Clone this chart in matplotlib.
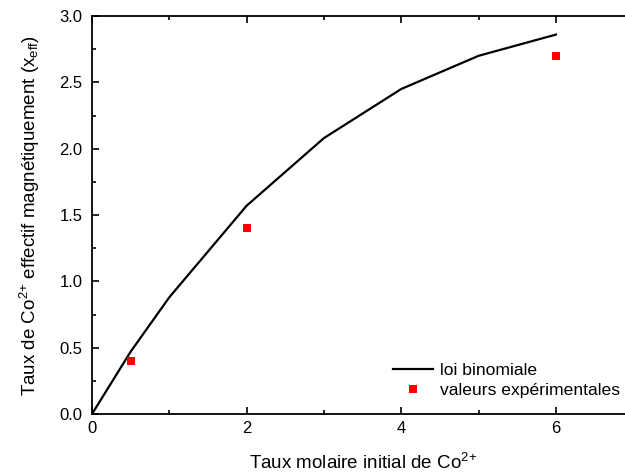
import numpy as np
import matplotlib.pyplot as plt
from matplotlib.ticker import MultipleLocator

plt.rcParams['font.family'] = ['Liberation Sans', 'DejaVu Sans']
plt.rcParams['mathtext.fontset'] = 'custom'
plt.rcParams['mathtext.rm'] = 'Liberation Sans'
plt.rcParams['mathtext.it'] = 'Liberation Sans'

# loi binomiale
x_binom = [0, 0.5, 1, 2, 3, 4, 5, 6]
y_binom = [0.0, 0.47, 0.88, 1.57, 2.08, 2.45, 2.70, 2.86]

# valeurs expérimentales
x_exp = [0.5, 2, 6]
y_exp = [0.40, 1.40, 2.70]

fig = plt.figure(figsize=(6.25, 4.75), dpi=100)
ax = fig.add_axes([0.1472, 0.1284, 0.866, 0.8379])

ax.plot(x_binom, y_binom, color='black', linewidth=1.6, label='loi binomiale')
ax.plot(x_exp, y_exp, 's', color='red', markersize=6, markeredgewidth=0,
        label='valeurs expérimentales')

ax.set_xlim(0, 7)
ax.set_ylim(0, 3)
ax.xaxis.set_major_locator(MultipleLocator(2))
ax.xaxis.set_minor_locator(MultipleLocator(1))
ax.yaxis.set_major_locator(MultipleLocator(0.5))
ax.yaxis.set_minor_locator(MultipleLocator(0.25))
ax.yaxis.set_major_formatter(plt.FormatStrFormatter('%.1f'))

ax.tick_params(which='both', direction='in', top=True, labelsize=12, width=1.2)
ax.tick_params(which='major', length=5)
ax.tick_params(which='minor', length=3)
ax.tick_params(axis='y', pad=7)
ax.tick_params(axis='x', pad=5)
for s in ax.spines.values():
    s.set_linewidth(1.3)

ax.set_xlabel('Taux molaire initial de Co$^{2{+}}$', fontsize=13.5, labelpad=12)
ax.set_ylabel('Taux de Co$^{2{+}}$ effectif magnétiquement (x$_{eff}$)', fontsize=13.5, labelpad=12)

ax.legend(loc='lower right', bbox_to_anchor=(1.005, 0.0), frameon=False, fontsize=12.6,
          handlelength=2.3, handletextpad=0.4, labelspacing=0.3)

fig.savefig('out.png', dpi=100)
